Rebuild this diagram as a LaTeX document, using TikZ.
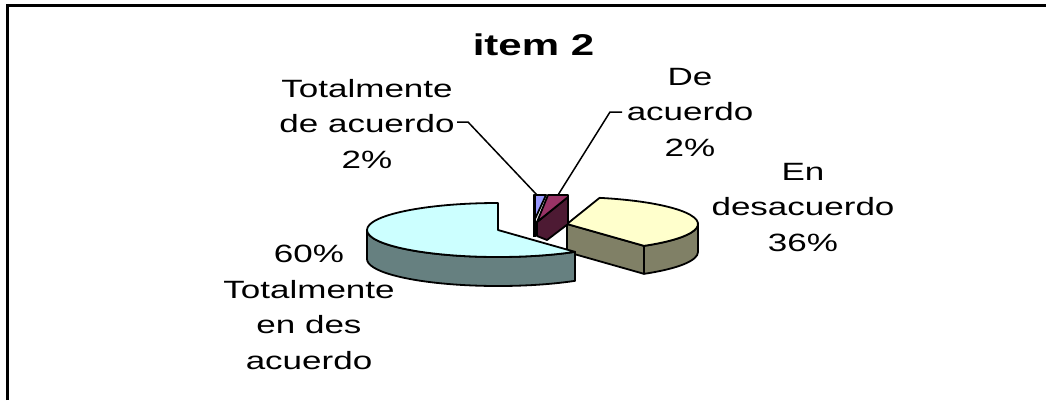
\documentclass[tikz,border=0pt]{standalone}
\usepackage{fontspec}
\setmainfont{Liberation Sans}
\usetikzlibrary{calc}
\definecolor{cyantop}{HTML}{CCFFFF}
\definecolor{cyanside}{HTML}{668080}
\definecolor{yeltop}{HTML}{FFFFCC}
\definecolor{yelside}{HTML}{808066}
\definecolor{bluetop}{HTML}{9999FF}
\definecolor{martop}{HTML}{993366}
\definecolor{marside}{HTML}{4D1A33}
\begin{document}
\begin{tikzpicture}[x=1pt,y=-1pt,
  face/.style={draw=black,line width=1.8pt,line join=round},
  lab/.style={align=center,inner sep=0pt,anchor=north,xscale=1.4,font=\fontsize{25}{35.5}\selectfont},
  leader/.style={draw=black,line width=1.5pt}]
\useasboundingbox (0,0) rectangle (1046,400);
\fill[white] (0,0) rectangle (1046,400);
\draw[line width=3pt] (7.5,400) -- (7.5,5) -- (1046,5);
% title
\node[font=\fontsize{30}{36}\selectfont\bfseries, xscale=1.4, anchor=base, inner sep=0pt] (title) at (533.5,55) {item 2};
% centres of the exploded slices
\coordinate (c1) at (498,230);
\coordinate (c2) at (567,224);
% En desacuerdo 36%
\path[face,fill=yelside] (c2) -- ($(c2)+(54:131 and 27)$) -- ++(0,28) -- ($(c2)+(0,28)$) -- cycle;
\path[face,fill=yelside] ($(c2)+(131,0)$) arc[start angle=0,end angle=54,x radius=131,y radius=27] -- ++(0,28) arc[start angle=54,end angle=0,x radius=131,y radius=27] -- cycle;
\path[face,fill=yeltop] (c2) -- ($(c2)+(-75.6:131 and 27)$) arc[start angle=-75.6,end angle=54,x radius=131,y radius=27] -- cycle;
% small slices
\path[face,fill=marside] (537,222) -- (568,197) -- (568,224) -- (547,240) -- (537,236) -- cycle;
\path[face,fill=martop] (548,195) -- (568,195) -- (568,197) -- (537,222) -- cycle;
\path[face,fill=bluetop] (534,195) -- (546,195) -- (535,219) -- cycle;
\draw[line width=3pt] (534.5,195) -- (534.5,237);
% Totalmente en desacuerdo 60%
\path[face,fill=cyanside] ($(c1)+(-131,0)$) arc[start angle=-180,end angle=-306,x radius=131,y radius=27] -- ++(0,29) arc[start angle=-306,end angle=-180,x radius=131,y radius=27] -- cycle;
\path[face,fill=cyantop] (c1) -- ($(c1)+(0,-27)$) arc[start angle=-90,end angle=-306,x radius=131,y radius=27] -- cycle;
% labels
\node[lab] (l1) at (367,79) {Totalmente\\de acuerdo\\2\%};
\node[lab] (l2) at (690,68) {De\\acuerdo\\2\%};
\node[lab] (l3) at (803,163) {En\\desacuerdo\\36\%};
\node[lab] (l4) at (309,245) {60\%\\Totalmente\\en des\\acuerdo};
% leaders
\coordinate (a1) at (457,122);
\coordinate (b1) at (468,122);
\coordinate (e1) at (537,195);
\coordinate (a2) at (622,112);
\coordinate (b2) at (610,112);
\coordinate (e2) at (558,195);
\draw[leader] (a1) -- (b1) -- (e1);
\draw[leader] (a2) -- (b2) -- (e2);
\end{tikzpicture}
\end{document}
